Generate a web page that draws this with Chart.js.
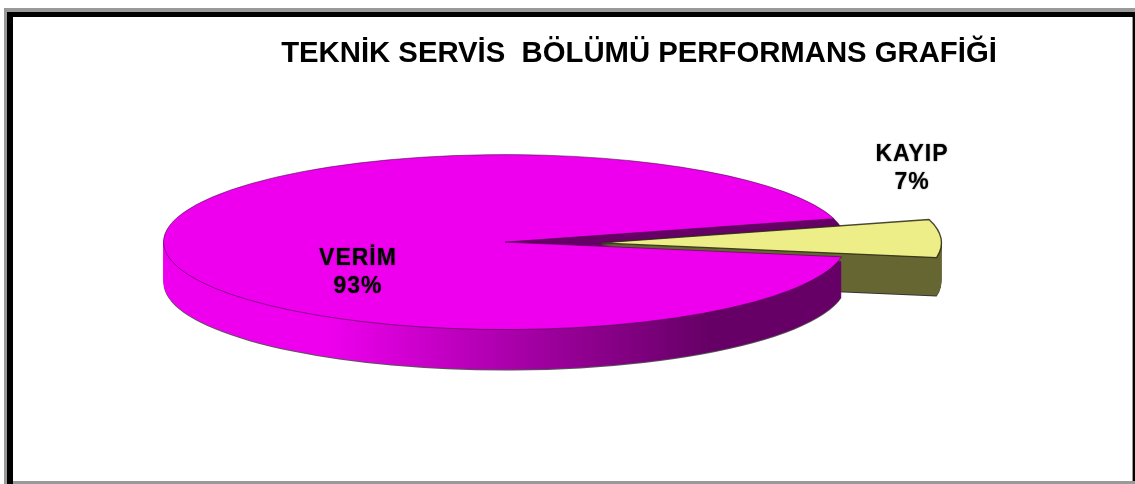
<!DOCTYPE html>
<html>
<head>
<meta charset="utf-8">
<style>html,body{margin:0;padding:0;background:#fff}canvas{display:block}</style>
<script src="https://cdn.jsdelivr.net/npm/chart.js@4"></script>
</head>
<body>
<canvas id="c" width="1135" height="484"></canvas>
<script>
const chartTitle = 'TEKNİK SERVİS  BÖLÜMÜ PERFORMANS GRAFİĞİ';
const categories = ['VERİM', 'KAYIP'];
const values = [93, 7];
const topColors = ['#EE00EE', '#EEEE88'];

const SQUASH = 0.2562, DEPTH = 40, CUT_DEPTH = 38;
const CUT_X = 95, CUT_Y = 0.8;
const labelPos = [[358, 259, 287], [912, 155, 183]];

function paint(ctx, arc, dy, over, shifted) {
  const saved = arc.options;
  arc.options = Object.assign({}, saved, over);
  ctx.save();
  if (shifted) ctx.translate(CUT_X, CUT_Y);
  ctx.translate(0, arc.y + dy);
  ctx.scale(1, SQUASH);
  ctx.translate(0, -arc.y);
  // keep outlines a uniform width under the squash
  const st = ctx.stroke;
  ctx.stroke = function () {
    ctx.save(); ctx.setTransform(1, 0, 0, 1, 0, 0); st.call(ctx); ctx.restore();
  };
  arc.draw(ctx);
  delete ctx.stroke;
  ctx.restore();
  arc.options = saved;
}
const pie3d = {
  id: 'pie3d',
  beforeDraw(chart) {
    const c = chart.ctx;
    c.save();
    c.fillStyle = '#fff'; c.fillRect(0, 0, 1135, 484);
    c.fillStyle = '#999';
    c.fillRect(4, 8, 1131, 4);
    c.fillRect(4, 8, 3, 476);
    c.fillRect(13, 481, 1122, 3);
    c.fillStyle = '#000';
    c.fillRect(7, 12, 1128, 5);
    c.fillRect(7, 12, 6, 472);
    c.fillRect(1133, 12, 2, 469);
    c.fillStyle = '#999';
    c.fillRect(1132, 17, 1, 464);
    c.restore();
  },
  beforeDatasetsDraw(chart) {
    const ctx = chart.ctx;
    const arcs = chart.getDatasetMeta(0).data;
    const main = arcs[0], cut = arcs[1];
    const side = ctx.createLinearGradient(164, 0, 846, 0);
    side.addColorStop(0, '#EE00EE');
    side.addColorStop(0.24, '#EE00EE');
    side.addColorStop(0.42, '#C000C0');
    side.addColorStop(0.64, '#8A008A');
    side.addColorStop(0.8, '#660066');
    side.addColorStop(1, '#660066');
    const olive = ctx.createLinearGradient(843, 0, 942, 0);
    olive.addColorStop(0, '#666633');
    olive.addColorStop(0.93, '#666633');
    olive.addColorStop(0.95, '#777744');
    olive.addColorStop(1, '#777744');

    const flat = {borderWidth: 0};
    paint(ctx, cut, CUT_DEPTH + 1, {...flat, backgroundColor: '#333'}, true);
    for (let d = CUT_DEPTH; d > 0; d--) paint(ctx, cut, d, {...flat, backgroundColor: olive}, true);
    paint(ctx, main, DEPTH + 1, {...flat, backgroundColor: '#555'}, false);
    for (let d = DEPTH; d > 0; d--) paint(ctx, main, d, {...flat, backgroundColor: side}, false);
    paint(ctx, cut, 0, {...flat, backgroundColor: '#660066'}, false);
    for (let d = 8; d > 0; d--) paint(ctx, cut, d, {...flat, backgroundColor: olive}, true);
    paint(ctx, main, 0, {borderWidth: 0.7, borderColor: 'rgba(50,0,50,0.75)'}, false);
    paint(ctx, cut, 0, {borderWidth: 1.4, borderColor: 'rgba(40,40,20,0.85)'}, true);

    ctx.save();
    ctx.fillStyle = '#000';
    ctx.textAlign = 'center';
    ctx.textBaseline = 'middle';
    ctx.font = 'bold 23px "Liberation Sans"';
    ctx.letterSpacing = '1px';
    ctx.shadowColor = 'rgba(0,0,0,0.6)';
    ctx.shadowBlur = 1.5;
    categories.forEach((name, i) => {
      ctx.fillText(name, labelPos[i][0], labelPos[i][1]);
      ctx.fillText(values[i] + '%', labelPos[i][0], labelPos[i][2]);
    });
    ctx.restore();
    return false;
  },
  afterLayout(chart) { chart.titleBlock.left += 268; }
};

new Chart(document.getElementById('c'), {
  type: 'pie',
  data: {
    labels: categories,
    datasets: [{
      data: values,
      backgroundColor: topColors,
      borderWidth: 0
    }]
  },
  plugins: [pie3d],
  options: {
    responsive: false,
    animation: false,
    rotation: 99.7,
    radius: 341.5,
    layout: {padding: {left: 0, right: 125, top: 0, bottom: 71}},
    events: [],
    plugins: {
      legend: {display: false},
      tooltip: {enabled: false},
      title: {
        display: true,
        text: chartTitle,
        color: '#000',
        font: {family: '"Liberation Sans"', size: 29.3, weight: 'bold'},
        padding: {top: 36, bottom: 0}
      }
    }
  }
});
</script>
</body>
</html>
